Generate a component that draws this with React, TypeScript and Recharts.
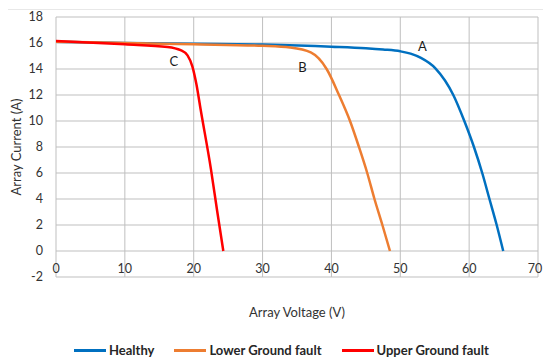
import React from 'react';
import {
  LineChart,
  Line,
  XAxis,
  YAxis,
  CartesianGrid,
  Legend,
  ReferenceDot,
} from 'recharts';

const voltTicks = [0, 10, 20, 30, 40, 50, 60, 70];
const currTicks = [-2, 0, 2, 4, 6, 8, 10, 12, 14, 16, 18];

const healthyV = [0, 10, 20, 30, 40, 45, 47.5, 50, 51.5, 53, 55.1, 57.7, 59.3, 60.7, 61.9, 62.95, 64, 64.95];
const healthyI = [16.1, 16.0, 15.95, 15.88, 15.72, 15.6, 15.5, 15.36, 15.18, 14.85, 14.05, 12, 10, 8, 6, 4, 2, 0];

const lowerV = [0, 10, 20, 30, 34, 37, 39.3, 41.1, 42.7, 44.0, 45.2, 46.25, 47.4, 48.5];
const lowerI = [16.1, 16.0, 15.9, 15.78, 15.65, 15.27, 14, 12, 10, 8, 6, 4, 2, 0];

const upperV = [0, 10, 16.2, 18.1, 19.1, 19.8, 20.4, 21.0, 22.5, 23.4, 24.3];
const upperI = [16.15, 15.9, 15.7, 15.45, 15.05, 14.2, 12.8, 10.9, 6.3, 3.1, 0];

const markNames = ['A', 'B', 'C'];
const markV = [53.2, 35.8, 17.1];
const markI = [15.77, 14.15, 14.6];

const zip = (v: number[], i: number[]) => v.map((x, k) => ({ v: x, i: i[k] }));

const series = [
  { name: 'Healthy', color: '#0070c0', data: zip(healthyV, healthyI) },
  { name: 'Lower Ground fault', color: '#ed7d31', data: zip(lowerV, lowerI) },
  { name: 'Upper Ground fault', color: '#ff0000', data: zip(upperV, upperI) },
];

const FONT = 'Lato, "Open Sans", sans-serif';
const TEXT = '#333';

function XTick(props: any) {
  const { x, y, payload } = props;
  return (
    <text x={x} y={y - 4} textAnchor="middle" fontSize={12.5} fill={TEXT} fontFamily={FONT}>
      {payload.value}
    </text>
  );
}

function LegendBox() {
  return (
    <div
      style={{
        height: 36,
        boxSizing: 'border-box',
        paddingTop: 20,
        paddingLeft: 74,
        display: 'flex',
        alignItems: 'center',
        gap: 20,
        fontFamily: FONT,
        fontWeight: 700,
        fontSize: 13,
        color: '#262626',
      }}
    >
      {series.map((s) => (
        <div key={s.name} style={{ display: 'flex', alignItems: 'center', gap: 3 }}>
          <span style={{ width: 32, height: 3, background: s.color, display: 'inline-block' }} />
          <span>{s.name}</span>
        </div>
      ))}
    </div>
  );
}

export default function App() {
  return (
    <div style={{ position: 'absolute', left: 0, top: 0, width: 543, height: 358, background: '#fff' }}>
      <div style={{ position: 'absolute', left: 8, right: 0, top: 9, borderTop: '1px solid #e8e8e8' }} />
      <LineChart width={543} height={358} margin={{ top: 17, right: 5, left: 0, bottom: 0 }}>
        <CartesianGrid stroke="#bfbfbf" strokeWidth={1} />
        <XAxis
          type="number"
          dataKey="v"
          domain={[0, 70]}
          ticks={voltTicks}
          allowDataOverflow
          axisLine={false}
          tickLine={false}
          tickSize={0}
          tickMargin={0}
          height={45}
          tick={<XTick />}
          label={{
            value: 'Array Voltage (V)',
            position: 'insideBottom',
            offset: 5,
            fill: TEXT,
            fontSize: 13,
            fontFamily: FONT,
          }}
        />
        <YAxis
          type="number"
          dataKey="i"
          domain={[-2, 18]}
          ticks={currTicks}
          allowDataOverflow
          axisLine={false}
          tickLine={false}
          tickSize={0}
          tickMargin={13}
          width={56}
          tick={{ fill: TEXT, fontSize: 12.5, fontFamily: FONT }}
          label={{
            value: 'Array Current (A)',
            angle: -90,
            position: 'center',
            dx: -12,
            fill: TEXT,
            fontSize: 13,
            fontFamily: FONT,
          }}
        />
        {series.map((s) => (
          <Line
            key={s.name}
            name={s.name}
            data={s.data}
            dataKey="i"
            type="monotone"
            stroke={s.color}
            strokeWidth={2.5}
            dot={false}
            activeDot={false}
            isAnimationActive={false}
          />
        ))}
        {markNames.map((m, k) => (
          <ReferenceDot
            key={m}
            x={markV[k]}
            y={markI[k]}
            r={0}
            stroke="none"
            fill="none"
            label={{ value: m, position: 'center', fill: '#1a1a1a', fontSize: 13, fontFamily: FONT }}
          />
        ))}
        <Legend verticalAlign="bottom" height={36} content={<LegendBox />} />
      </LineChart>
    </div>
  );
}
